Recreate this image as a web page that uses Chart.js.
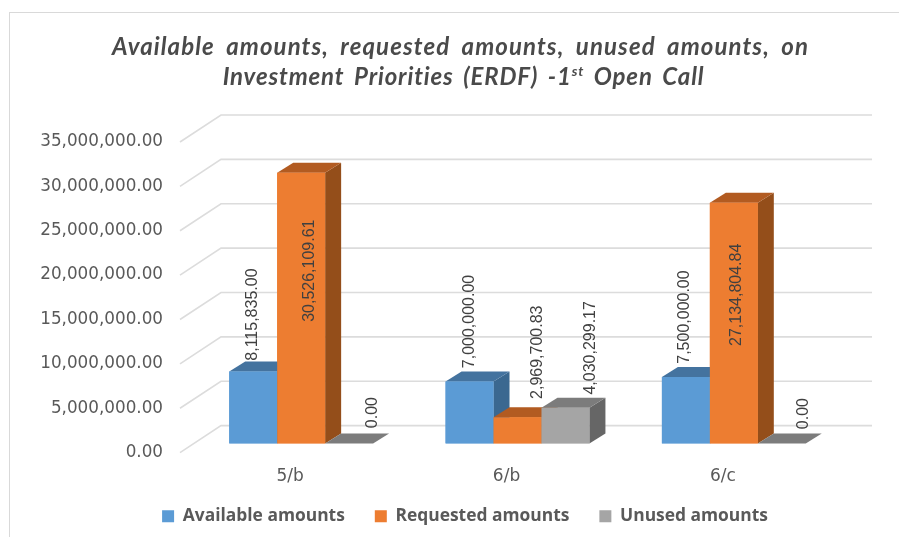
<!DOCTYPE html>
<html>
<head>
<meta charset="utf-8">
<title>Investment Priorities</title>
<script src="https://cdn.jsdelivr.net/npm/chart.js@4/dist/chart.umd.min.js"></script>
<style>
  html, body { margin: 0; padding: 0; background: #fff; overflow: hidden; }
  #wrap { position: relative; width: 899px; height: 537px; }
  #frame { position: absolute; left: 9px; top: 12px; width: 900px; height: 540px; border: 1px solid #d9d9d9; box-sizing: border-box; }
  #title { position: absolute; left: 0; top: 31px; width: 921px; text-align: center; font: italic bold 24px/30px Lato, sans-serif; color: #4a4a4a; word-spacing: 5px; letter-spacing: 1.1px; }
  #title span { position: relative; left: 3px; letter-spacing: 0.85px; word-spacing: 3.5px; }
  #title sup { font-size: 14px; line-height: 0; }
  canvas { position: absolute; left: 0; top: 0; }
</style>
</head>
<body>
<div id="wrap">
  <div id="frame"></div>
  <canvas id="investment" width="899" height="537"></canvas>
  <div id="title">Available amounts, requested amounts, unused amounts, on<br><span>Investment Priorities (ERDF) -1<sup>st</sup> Open Call</span></div>
</div>
<script>
var categories = ['5/b', '6/b', '6/c'];
var available = [8115835.00, 7000000.00, 7500000.00];
var requested = [30526109.61, 2969700.83, 27134804.84];
var unused = [0.00, 4030299.17, 0.00];

// hand placed data labels in the original, [dx, dy] from the bar's top centre
var labelNudges = [
    [[-1, -57], [0, -60], [-1, -60]],
    [[8, 98], [20, -65], [3, 92]],
    [[23, -31], [25, -60], [22, -30]]
];

function money(v) {
    return v.toLocaleString('en-US', { minimumFractionDigits: 2, maximumFractionDigits: 2 });
}

var depthX = 16, depthY = 10;

var fakeDepth = {
    id: 'fakeDepth',
    afterLayout: function (chart) {
        // the legend sits right of the canvas centre in the original, and closer to the axis
        chart.legend.left += 43;
        chart.legend.right += 43;
        chart.legend.top -= 11;
        chart.legend.bottom -= 11;
    },
    beforeDatasetsDraw: function (chart) {
        var ctx = chart.ctx, yScale = chart.scales.y;
        ctx.save();
        ctx.strokeStyle = '#dcdcdc';
        ctx.lineWidth = 1.6;
        yScale.ticks.forEach(function (tick) {
            var py = yScale.getPixelForValue(tick.value);
            ctx.beginPath();
            ctx.moveTo(180, py + 9);
            ctx.lineTo(221, py - 18);
            ctx.lineTo(872, py - 18);
            ctx.stroke();
        });
        ctx.restore();
    },
    afterDatasetsDraw: function (chart) {
        var ctx = chart.ctx;
        // chart.js paints the last dataset first, here the left bar has to go first
        chart.data.datasets.forEach(function (ds, i) {
            chart.getDatasetMeta(i).data.forEach(function (bar) {
                var l = bar.x - bar.width / 2, r = bar.x + bar.width / 2, t = bar.y, b = bar.base;
                ctx.fillStyle = ds.sideColor;
                ctx.beginPath();
                ctx.moveTo(r, t);
                ctx.lineTo(r + depthX, t - depthY);
                ctx.lineTo(r + depthX, b - depthY);
                ctx.lineTo(r, b);
                ctx.closePath();
                ctx.fill();
                ctx.fillStyle = ds.topColor;
                ctx.beginPath();
                ctx.moveTo(l, t);
                ctx.lineTo(l + depthX, t - depthY);
                ctx.lineTo(r + depthX, t - depthY);
                ctx.lineTo(r, t);
                ctx.closePath();
                ctx.fill();
                bar.draw(ctx);
            });
        });
        // value labels, turned 90 degrees
        chart.data.datasets.forEach(function (ds, i) {
            chart.getDatasetMeta(i).data.forEach(function (bar, j) {
                ctx.save();
                ctx.translate(bar.x + labelNudges[i][j][0], bar.y + labelNudges[i][j][1]);
                ctx.rotate(-Math.PI / 2);
                ctx.font = '16px "Liberation Sans"';
                ctx.fillStyle = '#404040';
                ctx.textAlign = 'center';
                ctx.textBaseline = 'middle';
                ctx.fillText(money(ds.data[j]), 0, 0);
                ctx.restore();
            });
        });
    }
};

var ctx = document.getElementById('investment').getContext('2d');
var barChart = new Chart(ctx, {
    type: 'bar',
    plugins: [fakeDepth],
    data: {
        labels: categories,
        datasets: [
            { label: 'Available amounts', data: available, backgroundColor: '#5b9bd5', topColor: '#44739f', sideColor: '#3b6890' },
            { label: 'Requested amounts', data: requested, backgroundColor: '#ed7d31', topColor: '#b25b21', sideColor: '#944e1a' },
            { label: 'Unused amounts', data: unused, backgroundColor: '#a5a5a5', topColor: '#7c7c7c', sideColor: '#666666' }
        ]
    },
    options: {
        responsive: false,
        animation: false,
        categoryPercentage: 0.665,
        barPercentage: 1,
        layout: { padding: { left: 2, right: 57, top: 133, bottom: -9 } },
        plugins: {
            tooltip: { enabled: false },
            title: { display: false },
            legend: {
                position: 'bottom',
                labels: {
                    boxWidth: 12,
                    boxHeight: 12,
                    padding: 30,
                    color: '#595959',
                    font: { family: '"Open Sans"', size: 17.4, weight: 'bold' }
                }
            }
        },
        scales: {
            x: {
                grid: { display: false },
                border: { display: false },
                afterFit: function (scale) { scale.height = 45; },
                ticks: {
                    labelOffset: -11,
                    padding: 15,
                    color: '#595959',
                    font: { family: '"DejaVu Sans"', size: 17 }
                }
            },
            y: {
                min: 0,
                max: 35000000,
                grid: { display: false },
                border: { display: false },
                afterFit: function (scale) { scale.width = 191; },
                ticks: {
                    stepSize: 5000000,
                    labelOffset: 9,
                    padding: 22,
                    color: '#595959',
                    font: { family: '"DejaVu Sans"', size: 16.8 },
                    callback: function (v) { return money(v); }
                }
            }
        }
    }
});
</script>
</body>
</html>
